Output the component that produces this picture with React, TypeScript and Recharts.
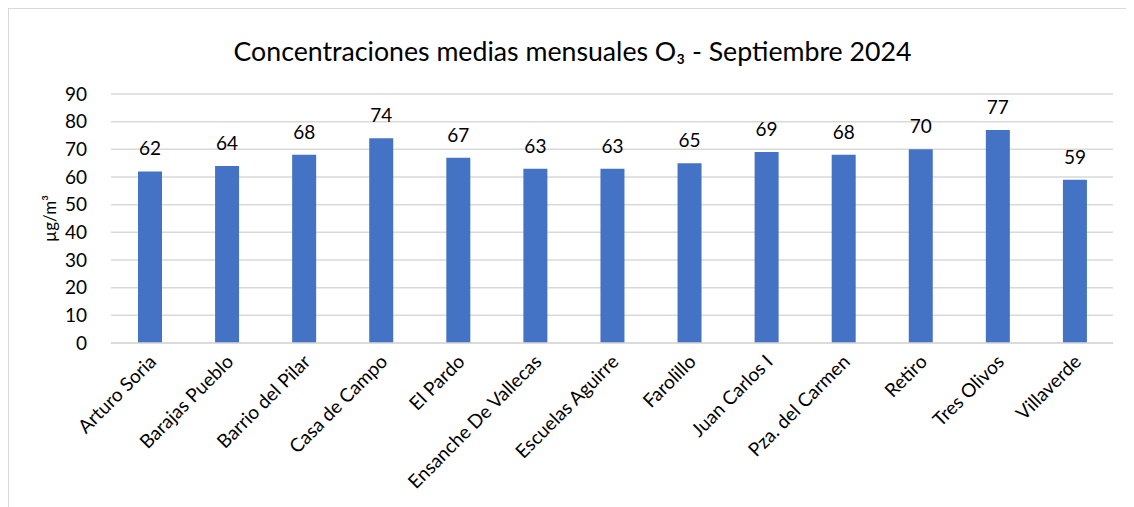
import { BarChart, Bar, XAxis, YAxis, CartesianGrid, LabelList } from "recharts";

const stations = [
  "Arturo Soria",
  "Barajas Pueblo",
  "Barrio del Pilar",
  "Casa de Campo",
  "El Pardo",
  "Ensanche De Vallecas",
  "Escuelas Aguirre",
  "Farolillo",
  "Juan Carlos I",
  "Pza. del Carmen",
  "Retiro",
  "Tres Olivos",
  "Villaverde",
];

const o3Values = [62, 64, 68, 74, 67, 63, 63, 65, 69, 68, 70, 77, 59];

const yTicks = [0, 10, 20, 30, 40, 50, 60, 70, 80, 90];

const data = stations.map((station, i) => ({ station, value: o3Values[i] }));

const FONT = "Lato, 'Open Sans', sans-serif";

function StationTick(props: any) {
  const { x, y, payload } = props;
  return (
    <g transform={`translate(${x + 3},${y + 7})`}>
      <text
        x={0}
        y={0}
        dy={7}
        textAnchor="end"
        transform="rotate(-45)"
        fill="#000"
        fontSize={19}
        fontFamily={FONT}
      >
        {payload.value}
      </text>
    </g>
  );
}

export default function App() {
  return (
    <div
      style={{
        position: "relative",
        width: 1127,
        height: 500,
        marginLeft: -1,
        marginTop: -1,
        borderLeft: "2px solid #d9d9d9",
        borderTop: "2px solid #d9d9d9",
        background: "#fff",
        fontFamily: FONT,
      }}
    >
      <div
        style={{
          position: "absolute",
          top: 26,
          left: 0,
          width: 1127,
          textAlign: "center",
          fontSize: 26.7,
          color: "#000",
        }}
      >
        Concentraciones medias mensuales O₃ - Septiembre 2024
      </div>
      <BarChart
        width={1126}
        height={499}
        data={data}
        margin={{ top: 85, right: 22, left: 41, bottom: 0 }}
        barCategoryGap={0}
      >
        <CartesianGrid vertical={false} stroke="#d9d9d9" strokeWidth={1.5} />
        <XAxis
          dataKey="station"
          interval={0}
          height={165}
          tickLine={false}
          axisLine={{ stroke: "#d9d9d9", strokeWidth: 1.5 }}
          tick={<StationTick />}
        />
        <YAxis
          width={61}
          domain={[0, 90]}
          ticks={yTicks}
          tickLine={false}
          axisLine={false}
          tick={{ fill: "#000", fontSize: 19, fontFamily: FONT }}
          tickMargin={18}
          label={{
            value: "µg/m³",
            angle: -90,
            position: "insideLeft",
            offset: 0,
            style: { fill: "#000", fontSize: 17, fontFamily: FONT, textAnchor: "middle" },
          }}
        />
        <Bar dataKey="value" fill="#4472c4" barSize={24} isAnimationActive={false}>
          <LabelList
            dataKey="value"
            position="top"
            offset={16}
            fill="#000"
            fontSize={19}
            fontFamily={FONT}
          />
        </Bar>
      </BarChart>
    </div>
  );
}
